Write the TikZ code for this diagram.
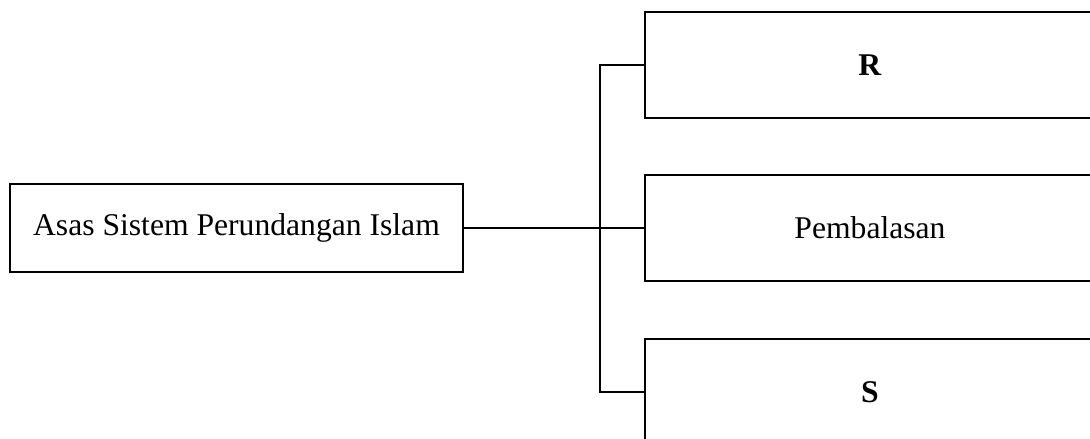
\documentclass[tikz,border=0pt]{standalone}
\usepackage{fontspec}
\setmainfont{Liberation Serif}
\begin{document}
\begin{tikzpicture}[x=0.02cm,y=-0.02cm,
	kotak/.style={draw,line width=0.8pt,inner sep=0pt,font=\fontsize{18}{20}\selectfont},
	kotakkanan/.style={kotak,minimum width=9cm,minimum height=2.12cm}]
	\useasboundingbox (0,0) rectangle (1090,439);
	\clip (0,0) rectangle (1090,439);
				\node[kotak,minimum width=9.06cm,minimum height=1.76cm](asas) at (236.5,228){Asas Sistem Perundangan Islam};
				\node[kotakkanan](rr) at (870,65){\textbf{R}};
				\node[kotakkanan](pb) at (870,228){Pembalasan};
				\node[kotakkanan](ss) at (870,392){\textbf{S}};
				\coordinate(cabang) at (600,228);
       				\draw[line width=1.3pt](asas.east) -- (cabang);
       				\draw[line width=0.8pt](rr.west) -| (cabang) |- (ss.west);
       				\draw[line width=0.8pt](cabang) -- (pb.west);
			\end{tikzpicture}
\end{document}
